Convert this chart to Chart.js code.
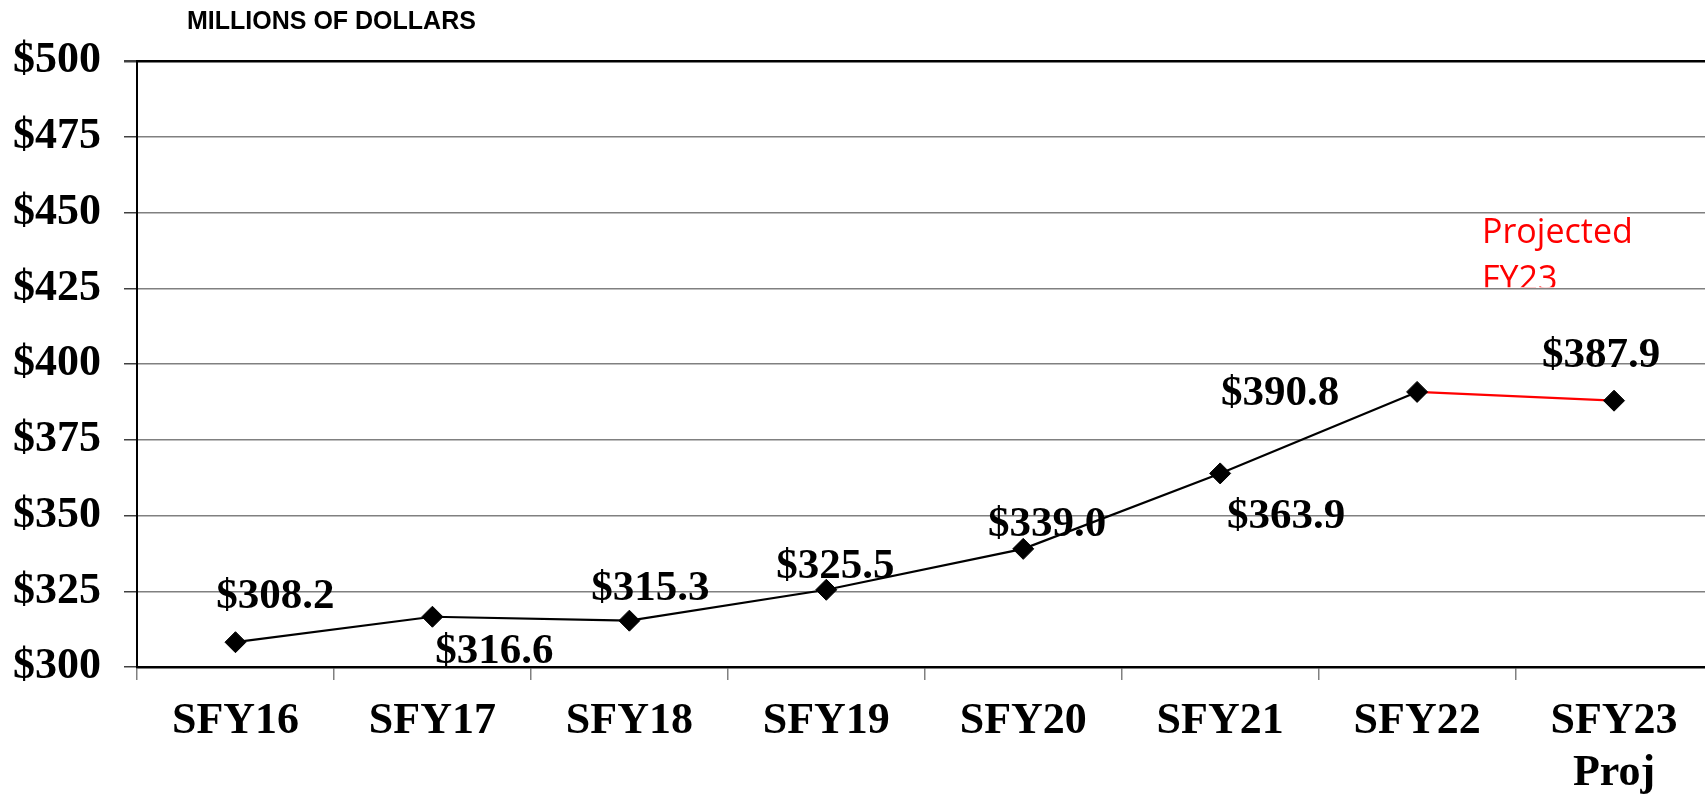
<!DOCTYPE html>
<html>
<head>
<meta charset="utf-8">
<script src="https://cdn.jsdelivr.net/npm/chart.js@4.4.1/dist/chart.umd.min.js"></script>
<style>
  html, body { margin: 0; padding: 0; background: #fff; overflow: hidden; }
  #wrap { position: absolute; left: 0; top: 0; width: 1724px; height: 794px; }
</style>
</head>
<body>
<div id="wrap"><canvas id="chart" width="1724" height="794"></canvas></div>
<script>
// data
const categories = ['SFY16', 'SFY17', 'SFY18', 'SFY19', 'SFY20', 'SFY21', 'SFY22', ['SFY23', 'Proj']];
const spending = [308.2, 316.6, 315.3, 325.5, 339.0, 363.9, 390.8, 387.9];
const valueLabels = ['$308.2', '$316.6', '$315.3', '$325.5', '$339.0', '$363.9', '$390.8', '$387.9'];
const yMin = 300;
const yMax = 500;
const yStep = 25;

// where each value label sits relative to its point (px)
const labelShift = [[40, -45], [62, 35], [21, -32], [9, -23], [24, -24], [66, 43], [-137, 2], [-13, -45]];

const serif = '"Liberation Serif", "Times New Roman", serif';

// value labels next to the markers
const pointLabels = {
  id: 'pointLabels',
  afterDatasetsDraw(chart) {
    const ctx = chart.ctx;
    const meta = chart.getDatasetMeta(0);
    ctx.save();
    ctx.font = 'bold 43px ' + serif;
    ctx.fillStyle = '#000';
    ctx.textAlign = 'center';
    ctx.textBaseline = 'middle';
    meta.data.forEach((pt, i) => {
      ctx.fillText(valueLabels[i], pt.x + labelShift[i][0], pt.y + labelShift[i][1]);
    });
    ctx.restore();
  }
};

// unit caption and the red "Projected FY23" note
const notes = {
  id: 'notes',
  afterDraw(chart) {
    const ctx = chart.ctx;
    ctx.save();
    ctx.fillStyle = '#000';
    ctx.font = 'bold 25px "Liberation Sans", Arial, sans-serif';
    ctx.textAlign = 'left';
    ctx.textBaseline = 'middle';
    ctx.fillText('MILLIONS OF DOLLARS', 187, 22);

    // the note is cut off by the $425 gridline in the original
    const cut = chart.scales.y.getPixelForValue(425);
    ctx.beginPath();
    ctx.rect(0, 0, chart.width, cut - 1);
    ctx.clip();
    ctx.fillStyle = '#ff0000';
    ctx.font = '34px "Open Sans", sans-serif';
    ctx.textBaseline = 'alphabetic';
    ctx.fillText('Projected', 1482, 243);
    ctx.fillText('FY23', 1482, 290);
    ctx.restore();
  }
};

new Chart(document.getElementById('chart'), {
  type: 'line',
  data: {
    labels: categories,
    datasets: [{
      data: spending,
      borderColor: '#000',
      borderWidth: 2.2,
      segment: {
        borderColor: c => c.p1DataIndex === spending.length - 1 ? '#ff0000' : '#000'
      },
      pointStyle: 'rectRot',
      pointRadius: 10.5,
      pointBackgroundColor: '#000',
      pointBorderColor: '#000',
      pointBorderWidth: 1,
      tension: 0,
      fill: false,
      clip: false
    }]
  },
  options: {
    responsive: false,
    animation: false,
    devicePixelRatio: 1,
    layout: { padding: { left: -10, top: 61, right: 0, bottom: -21 } },
    plugins: {
      legend: { display: false },
      tooltip: { enabled: false },
      title: { display: false }
    },
    scales: {
      x: {
        offset: true,
        grid: { offset: true, drawOnChartArea: false, tickLength: 13, color: '#808080', lineWidth: 1.5 },
        border: { color: '#000', width: 2.5 },
        ticks: {
          color: '#000',
          padding: 16,
          maxRotation: 0,
          autoSkip: false,
          font: { family: serif, size: 44, weight: 'bold', lineHeight: 1.17 }
        }
      },
      y: {
        min: yMin,
        max: yMax,
        ticks: {
          stepSize: yStep,
          padding: 23,
          color: '#000',
          font: { family: serif, size: 44, weight: 'bold', lineHeight: 1 },
          callback: v => '$' + v
        },
        grid: {
          color: c => c.tick && c.tick.value === yMax ? '#000' : '#808080',
          lineWidth: c => c.tick && c.tick.value === yMax ? 2.5 : 1.5,
          tickLength: 13,
          tickColor: '#404040'
        },
        border: { color: '#000', width: 2 }
      }
    }
  },
  plugins: [pointLabels, notes]
});
</script>
</body>
</html>
